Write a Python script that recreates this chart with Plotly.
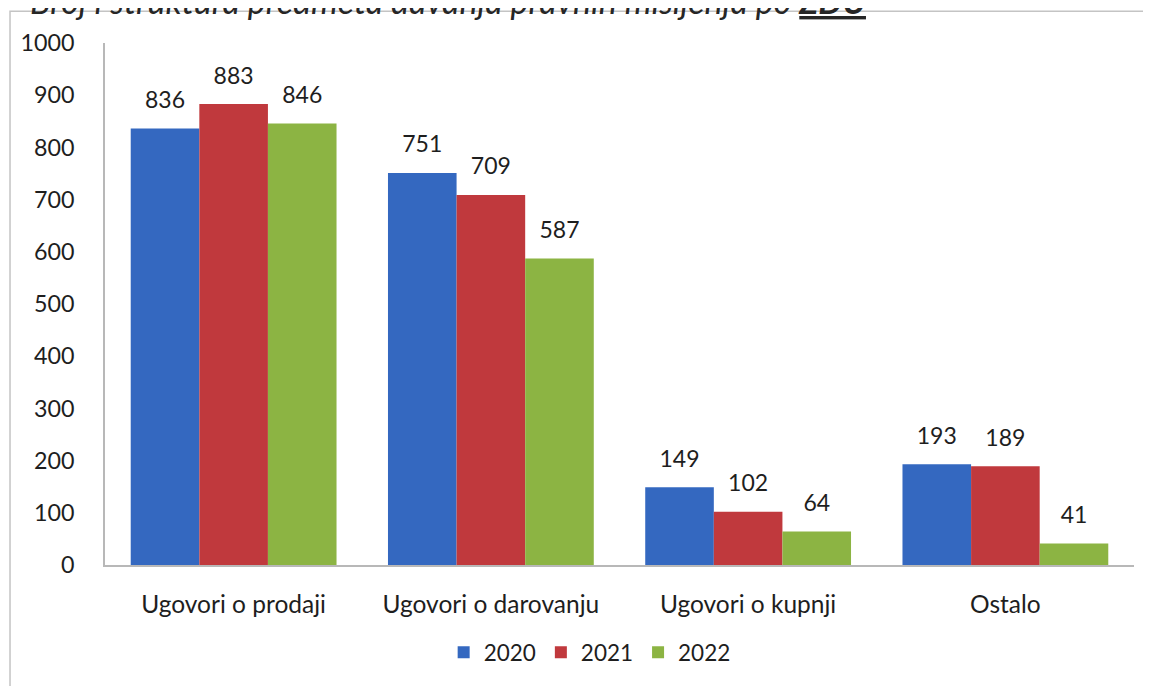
import plotly.graph_objects as go

categories = ["Ugovori o prodaji", "Ugovori o darovanju", "Ugovori o kupnji", "Ostalo"]
years = ["2020", "2021", "2022"]
values_2020 = [836, 751, 149, 193]
values_2021 = [883, 709, 102, 189]
values_2022 = [846, 587, 64, 41]
y_ticks = [0, 100, 200, 300, 400, 500, 600, 700, 800, 900, 1000]

title_text = "Broj i struktura predmeta davanja pravnih mišljenja po <b><u>ZDU</u></b>"

colors = ["#3468C0", "#C0393D", "#8CB443"]
series = [values_2020, values_2021, values_2022]
font_family = "Lato, 'Noto Sans', sans-serif"
ink = "#1E1E1E"

fig = go.Figure()
for name, vals, col in zip(years, series, colors):
    fig.add_trace(go.Bar(
        x=categories, y=vals, name=name,
        marker=dict(color=col, line=dict(width=0)),
        offsetgroup=name,
    ))

# value labels sit a bit higher above the bars than plotly's own outside text
for name, vals in zip(years, series):
    fig.add_trace(go.Scatter(
        x=categories, y=vals, mode="markers+text",
        text=[str(v) for v in vals], textposition="top center",
        textfont=dict(size=23, color=ink, family=font_family),
        marker=dict(size=22, opacity=0),
        offsetgroup=name, showlegend=False, hoverinfo="skip",
    ))

# frame of the scanned chart box (only left and top edges fall inside the page)
fig.add_shape(type="rect", xref="paper", yref="paper",
              x0=-0.0923, x1=1.3, y0=-0.4, y1=1.061,
              line=dict(color="#C4C4C4", width=1.5), fillcolor="rgba(0,0,0,0)",
              layer="below")

# the cut-off caption on top of the scan
fig.add_annotation(text="<i>" + title_text + "</i>", xref="paper", yref="paper",
                   x=-0.075, y=1, xanchor="left", yanchor="bottom", yshift=20,
                   showarrow=False,
                   font=dict(size=34, color="#262626", family=font_family))

# page has an 8px body margin, so the figure is shrunk and shifted to keep the plot area in place
fig.update_layout(
    width=1143, height=678,
    margin=dict(l=97, r=17, t=35, b=121),
    paper_bgcolor="white", plot_bgcolor="white",
    barmode="group", bargap=0.2, bargroupgap=0,
    scattermode="group", scattergap=0.2,
    font=dict(family=font_family, size=22, color=ink),
    legend=dict(orientation="h", x=0.471, y=-0.168, xanchor="center", yanchor="middle",
                font=dict(size=22.5, color=ink), itemwidth=30),
    showlegend=True,
)
fig.update_xaxes(showline=True, linecolor="#B8B8B8", linewidth=1.5, showgrid=False,
                 ticks="", ticklabelstandoff=17, tickfont=dict(size=24.5))
fig.update_yaxes(range=[0, 1000], tickvals=y_ticks, showline=True, linecolor="#B8B8B8",
                 linewidth=1.5, showgrid=False, zeroline=False, ticks="",
                 ticklabelstandoff=24, tickfont=dict(size=23.3))

fig.write_html("out.html")
